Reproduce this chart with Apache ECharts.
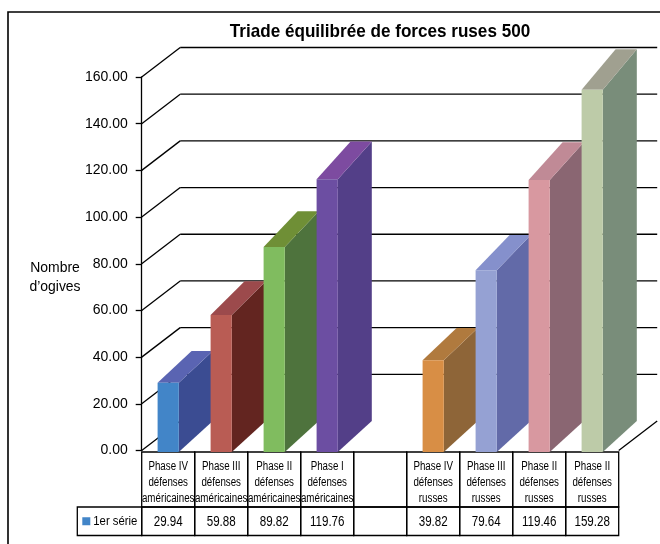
<!DOCTYPE html>
<html><head><meta charset="utf-8">
<script src="https://cdn.jsdelivr.net/npm/echarts@6/dist/echarts.min.js"></script>
<style>html,body{margin:0;padding:0;background:#fff}#c{width:660px;height:544px}</style>
</head><body><div id="c"></div>
<script>
// ---------------- data ----------------
const chartTitle = 'Triade équilibrée de forces ruses 500';
const yAxisTitle = 'Nombre\nd’ogives';
const seriesName = '1er série';
const categories = [
  'Phase IV\ndéfenses\naméricaines',
  'Phase III\ndéfenses\naméricaines',
  'Phase II\ndéfenses\naméricaines',
  'Phase I\ndéfenses\naméricaines',
  '',
  'Phase IV\ndéfenses\nrusses',
  'Phase III\ndéfenses\nrusses',
  'Phase II\ndéfenses\nrusses',
  'Phase II\ndéfenses\nrusses'
];
const values = [29.94, 59.88, 89.82, 119.76, null, 39.82, 79.64, 119.46, 159.28];
const yTicks = [0, 20, 40, 60, 80, 100, 120, 140, 160];

// ---------------- styles ----------------
const FONT = '"Liberation Sans", Arial, sans-serif';
const palette = [ // [front, side, top]
  ['#4285c8', '#3b4c92', '#5a64b2'],
  ['#b95c54', '#632520', '#9c4a4c'],
  ['#80bc5f', '#4e733d', '#6f8f36'],
  ['#6c4ea2', '#533f88', '#7d4ba0'],
  null,
  ['#d88e45', '#8e6538', '#b07a3e'],
  ['#95a1d3', '#626aa8', '#8590cc'],
  ['#d898a0', '#8a6672', '#c08a96'],
  ['#bdcba8', '#798d7a', '#a0a090']
];
const WALL_DX = 38.5, WALL_DY = -29.5;   // depth of the walls
const BAR_DX = 34;                       // depth of the bars in x
const FRONT_SCALE = 0.97;                // perspective shrink of front faces
const BAR_HALF = 0.2;                    // half bar width as fraction of band

const chart = echarts.init(document.getElementById('c'));

function renderWall(params, api) {
  const cs = params.coordSys;
  const v = api.value(1);
  const y = api.coord([0, v])[1];
  const L = cs.x, R = cs.x + cs.width;
  const st = { stroke: '#000', lineWidth: 1.3 };
  const ch = [{ type: 'line', shape: { x1: L, y1: y, x2: L + WALL_DX, y2: y + WALL_DY }, style: st }];
  if (v > 0) {
    ch.push({ type: 'line', shape: { x1: L + WALL_DX, y1: y + WALL_DY, x2: R + WALL_DX, y2: y + WALL_DY }, style: st });
  } else {
    ch.push({ type: 'line', shape: { x1: R, y1: y, x2: R + WALL_DX, y2: y + WALL_DY }, style: st });
  }
  return { type: 'group', children: ch };
}

function renderBar(params, api) {
  const i = api.value(0), v = api.value(1);
  const col = palette[i];
  const base = api.coord([i, 0]);
  const top = api.coord([i, v]);
  const bw = api.size([1, 0])[0];
  const hw = bw * BAR_HALF;
  const cx = base[0];
  const yb = base[1] + 1.5;
  const yt = base[1] - (base[1] - top[1]) * FRONT_SCALE;
  const x0 = cx - hw, x1 = cx + hw;
  const byb = base[1] + WALL_DY, byt = top[1] + WALL_DY;
  return {
    type: 'group',
    children: [
      { type: 'polygon', shape: { points: [[x1, yb], [x1, yt], [x1 + BAR_DX, byt], [x1 + BAR_DX, byb]] }, style: { fill: col[1] } },
      { type: 'polygon', shape: { points: [[x0, yt], [x1, yt], [x1 + BAR_DX, byt], [x0 + BAR_DX, byt]] }, style: { fill: col[2] } },
      { type: 'rect', shape: { x: x0, y: yt, width: x1 - x0, height: yb - yt }, style: { fill: col[0] } }
    ]
  };
}

chart.setOption({
  animation: false,
  backgroundColor: '#fff',
  grid: { left: 141.7, right: 41.3, top: 77, bottom: 93.5 },
  xAxis: {
    type: 'category', data: categories,
    axisLine: { show: false }, axisTick: { show: false }, axisLabel: { show: false }
  },
  yAxis: {
    type: 'value', min: 0, max: 160, interval: 20,
    axisLine: { show: true, lineStyle: { color: '#000', width: 1.3 } },
    axisTick: { show: true, length: 6, lineStyle: { color: '#000', width: 1.3 } },
    splitLine: { show: false },
    axisLabel: { formatter: v => v.toFixed(2), fontSize: 14, fontFamily: FONT, color: '#000', margin: 14, padding: [0, 0, 8, 0] }
  },
  series: [
    { type: 'custom', z: 1, silent: true, renderItem: renderWall, data: yTicks.map(v => [0, v]) },
    { type: 'custom', z: 2, name: seriesName, renderItem: renderBar,
      data: values.map((v, i) => v == null ? null : [i, v]).filter(d => d) }
  ]
});

// ---------------- table & texts ----------------
const p0 = chart.convertToPixel({ gridIndex: 0 }, [0, 0]);
const p1 = chart.convertToPixel({ gridIndex: 0 }, [1, 0]);
const band = p1[0] - p0[0];
const tableTop = p0[1] + 1.5;
const headH = 55, rowH = 28.5;
const legendW = 64.4;
const cellStyle = { fill: 'none', stroke: '#000', lineWidth: 1.3 };
const els = [];
categories.forEach((c, i) => {
  const cx = chart.convertToPixel({ gridIndex: 0 }, [i, 0])[0];
  els.push({ type: 'rect', shape: { x: cx - band / 2, y: tableTop, width: band, height: headH }, style: cellStyle });
  els.push({ type: 'rect', shape: { x: cx - band / 2, y: tableTop + headH, width: band, height: rowH }, style: cellStyle });
  els.push({ type: 'text', x: cx, y: tableTop + headH / 2 + 3, scaleX: 0.78, style: { text: c, font: '12.5px ' + FONT, fill: '#000', align: 'center', verticalAlign: 'middle', lineHeight: 15.8 } });
  if (values[i] != null) {
    els.push({ type: 'text', x: cx, y: tableTop + headH + rowH / 2 + 0.5, scaleX: 0.8, style: { text: values[i].toFixed(2), font: '14.5px ' + FONT, fill: '#000', align: 'center', verticalAlign: 'middle' } });
  }
});
const left0 = p0[0] - band / 2;
els.push({ type: 'rect', shape: { x: left0 - legendW, y: tableTop + headH, width: legendW, height: rowH }, style: cellStyle });
els.push({ type: 'rect', shape: { x: left0 - legendW + 5, y: tableTop + headH + rowH / 2 - 4, width: 8, height: 8 }, style: { fill: palette[0][0] } });
els.push({ type: 'text', x: left0 - legendW + 16, y: tableTop + headH + rowH / 2 + 0.5, scaleX: 0.84, style: { text: seriesName, font: '13.5px ' + FONT, fill: '#000', align: 'left', verticalAlign: 'middle' } });
els.push({ type: 'text', x: 380, y: 32, scaleX: 0.9, style: { text: chartTitle, font: 'bold 19px ' + FONT, fill: '#000', align: 'center', verticalAlign: 'middle' } });
els.push({ type: 'text', x: 55, y: 277, scaleX: 0.93, style: { text: yAxisTitle, font: '15px ' + FONT, fill: '#000', align: 'center', verticalAlign: 'middle', lineHeight: 19 } });
els.push({ type: 'polyline', shape: { points: [[8, 544], [8, 12], [660, 12]] }, style: { stroke: '#000', lineWidth: 1.6, fill: 'none' } });
chart.setOption({ graphic: { elements: els } });
</script>
</body></html>
